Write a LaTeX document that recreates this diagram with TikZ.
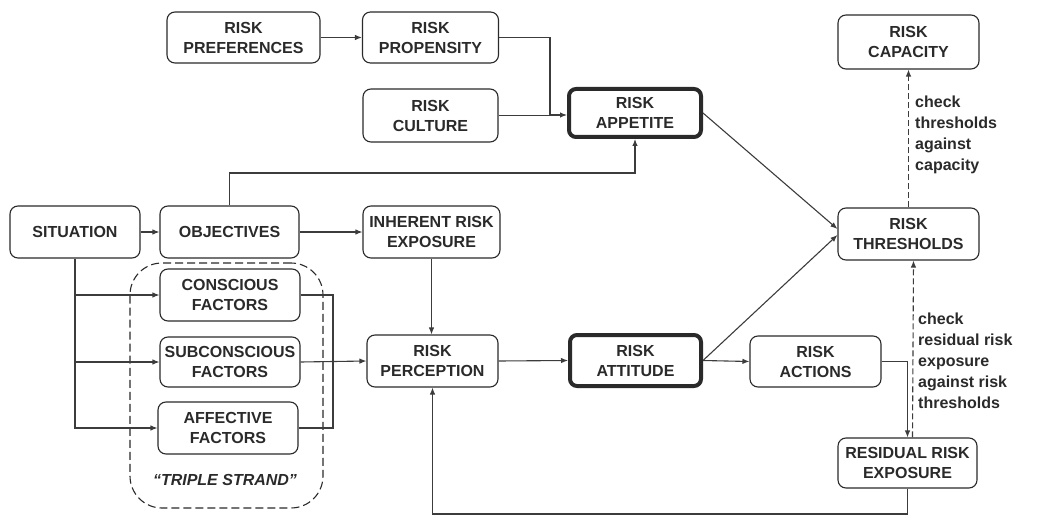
\documentclass[tikz,border=0pt]{standalone}
\usepackage{fontspec}
\setmainfont{Liberation Sans}
\usetikzlibrary{arrows.meta}
\definecolor{ink}{HTML}{2A2A2A}
\definecolor{wire}{HTML}{3C3C3C}
\begin{document}
\begin{tikzpicture}[x=1pt,y=-1pt,
  box/.style={draw=ink, line width=1.1pt, rounded corners=8pt, inner sep=0pt,
    align=center, text=ink, font=\fontsize{16}{20}\selectfont\bfseries},
  keybox/.style={box, line width=4pt, rounded corners=7pt},
  link/.style={draw=wire, line width=1.1pt, -{Latex[length=7pt,width=5.5pt]}},
  plain/.style={draw=wire, line width=1.1pt},
  checkline/.style={link, dash pattern=on 6pt off 3pt},
  note/.style={anchor=north west, inner sep=0pt, align=left, text=ink,
    font=\fontsize{16}{21}\selectfont\bfseries}]
\useasboundingbox (0,0) rectangle (1060,516);

% boxes
\node[box, minimum width=153pt, minimum height=51pt] (pref) at (243.5,37.5) {RISK\\PREFERENCES};
\node[box, minimum width=136pt, minimum height=51pt] (prop) at (430.5,37.5) {RISK\\PROPENSITY};
\node[box, minimum width=135pt, minimum height=53pt] (cult) at (430.5,115.5) {RISK\\CULTURE};
\node[keybox, minimum width=132pt, minimum height=48pt] (app) at (635,113) {RISK\\APPETITE};
\node[box, minimum width=141pt, minimum height=54pt] (cap) at (908.5,42) {RISK\\CAPACITY};
\node[box, minimum width=141pt, minimum height=52pt] (thr) at (908.5,234) {RISK\\THRESHOLDS};
\node[box, minimum width=130pt, minimum height=52pt] (sit) at (75,232) {SITUATION};
\node[box, minimum width=139pt, minimum height=52pt] (obj) at (229.5,232) {OBJECTIVES};
\node[box, minimum width=137pt, minimum height=52pt] (inh) at (431.5,232) {INHERENT RISK\\EXPOSURE};
\node[box, minimum width=140pt, minimum height=52pt] (con) at (230,295) {CONSCIOUS\\FACTORS};
\node[box, minimum width=140pt, minimum height=50pt] (sub) at (230,362) {SUBCONSCIOUS\\FACTORS};
\node[box, minimum width=140pt, minimum height=52pt] (aff) at (228,428) {AFFECTIVE\\FACTORS};
\node[box, minimum width=131pt, minimum height=52pt] (per) at (432.5,361) {RISK\\PERCEPTION};
\node[keybox, minimum width=131pt, minimum height=51pt] (att) at (635.5,360.5) {RISK\\ATTITUDE};
\node[box, minimum width=131pt, minimum height=51pt] (act) at (815.5,361.5) {RISK\\ACTIONS};
\node[box, minimum width=139pt, minimum height=50pt] (res) at (907.5,463) {RESIDUAL RISK\\EXPOSURE};

% the triple strand group
\node[draw=ink, line width=1.1pt, dash pattern=on 8pt off 4pt, rounded corners=32pt,
  minimum width=193pt, minimum height=245pt, inner sep=0pt] (strand) at (226.5,385.5) {};
\node[text=ink, font=\fontsize{16}{20}\selectfont\bfseries\itshape] (strandlbl) at (225,480) {“TRIPLE STRAND”};

% junction points
\coordinate (j1) at (550,115);
\coordinate (ko) at (0,173);
\coordinate (m) at (333,362);
\coordinate (lb) at (0,514);

% connectors
\draw[link] (pref.east) -- (prop.east -| prop.west);
\draw[link] (prop.east) -| (j1) -- (j1 -| app.west);
\draw[plain] (cult.east) -- (cult.east -| j1);
\draw[link] (obj.north) |- (app.south |- ko) -- (app.south);
\draw[link] (app.east) -- ([yshift=5pt]thr.west);
\draw[link] (att.east) -- ([yshift=-1pt]thr.west);
\draw[link] (sit.east) -- (obj.west);
\draw[link] (obj.east) -- (inh.west);
\draw[link] (sit.south) |- (aff.west);
\draw[link] (sit.south |- con.west) -- (con.west);
\draw[link] (sit.south |- sub.west) -- (sub.west);
\draw[plain] (con.east) -| (m) |- (aff.east);
\draw[link] (sub.east) -- (per.west);
\draw[link] (inh.south) -- (inh.south |- per.north);
\draw[link] (per.east) -- (att.west);
\draw[link] (att.east) -- (act.west);
\draw[link] (act.east) -| (res.north);
\draw[link] (res.south) |- (per.south |- lb) -- (per.south);
\draw[checkline] (thr.north) -- (cap.south);
\draw[checkline] ([xshift=5pt]res.north) -- ([xshift=5pt]thr.south);

% annotations
\node[note] (capnote) at (915,96) {check\\thresholds\\against\\capacity};
\node[note] (resnote) at (918,313) {check\\residual risk\\exposure\\against risk\\thresholds};
\end{tikzpicture}
\end{document}
